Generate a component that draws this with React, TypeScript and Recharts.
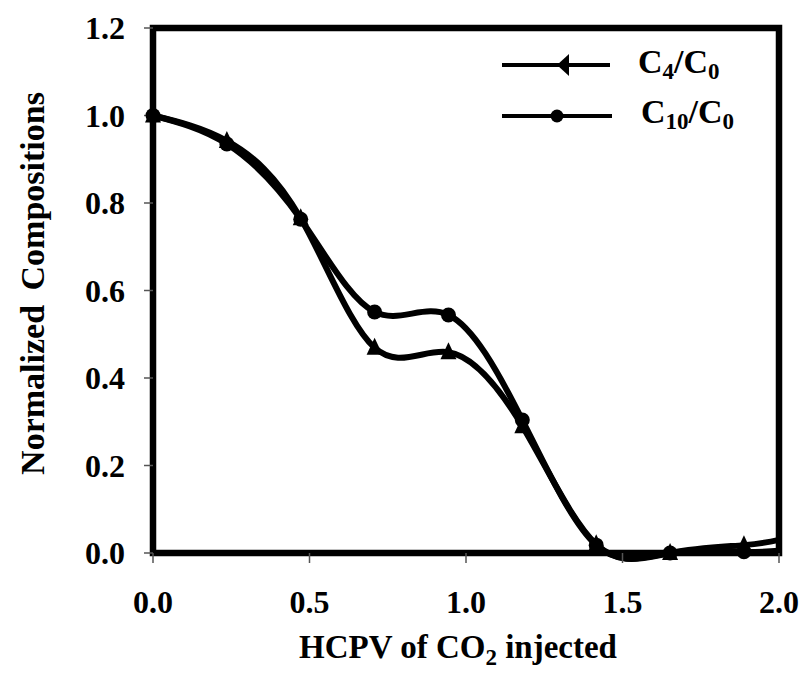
import React from 'react'
import { LineChart, Line, XAxis, YAxis, ReferenceArea, Legend } from 'recharts'

// HCPV of CO2 injected (last entry = where the curves meet the right frame)
const hcpv = [0, 0.236, 0.472, 0.708, 0.944, 1.18, 1.416, 1.652, 1.888, 2.0]
const c4 = [1.0, 0.942, 0.765, 0.469, 0.459, 0.29, 0.02, 0.0, 0.018, 0.03]
const c10 = [1.0, 0.935, 0.763, 0.551, 0.544, 0.304, 0.018, 0.0, 0.003, 0.005]
const xTicks = [0, 0.5, 1.0, 1.5, 2.0]
const yTicks = [0, 0.2, 0.4, 0.6, 0.8, 1.0, 1.2]

const data = hcpv.map((x, i) => ({ x, c4: c4[i], c10: c10[i] }))

const font = '"Liberation Serif", "Times New Roman", serif'
const tickStyle = { fill: '#000', fontSize: 32, fontWeight: 'bold', fontFamily: font }

function TriDot(props: any) {
  const { cx, cy, index, payload } = props
  if (payload.x >= 2) return <g key={'t' + index} />
  return <polygon key={'t' + index} points={`${cx},${cy - 10} ${cx - 8},${cy + 7} ${cx + 8},${cy + 7}`} fill="#000" />
}

function CircleDot(props: any) {
  const { cx, cy, index, payload } = props
  if (payload.x >= 2) return <g key={'c' + index} />
  return <circle key={'c' + index} cx={cx} cy={cy} r={7.5} fill="#000" />
}

function LegendBox() {
  const txt = { fontFamily: font, fontWeight: 'bold' as const, fontSize: 34, fill: '#000' }
  return (
    <svg width={270} height={100} style={{ display: 'block' }}>
      <line x1={7} x2={115} y1={25} y2={25} stroke="#000" strokeWidth={4} />
      <polygon points="62,25 74,14 74,36" fill="#000" />
      <text x={143} y={33} {...txt}>
        C<tspan dy={6} fontSize={23}>4</tspan>
        <tspan dy={-6}>/C</tspan>
        <tspan dy={6} fontSize={23}>0</tspan>
      </text>
      <line x1={7} x2={117} y1={76} y2={76} stroke="#000" strokeWidth={4} />
      <circle cx={62} cy={76} r={6.5} fill="#000" />
      <text x={146} y={83} {...txt}>
        C<tspan dy={6} fontSize={23}>10</tspan>
        <tspan dy={-6}>/C</tspan>
        <tspan dy={6} fontSize={23}>0</tspan>
      </text>
    </svg>
  )
}

export default function App() {
  return (
    <div style={{ position: 'absolute', left: 0, top: 0, background: '#fff' }}>
      <LineChart width={806} height={675} data={data} margin={{ top: 28, right: 27, left: 33, bottom: 12 }}>
        <ReferenceArea x1={0} x2={2} y1={0} y2={1.2} fill="none" stroke="#000" strokeWidth={6.5} />
        <XAxis
          dataKey="x"
          type="number"
          domain={[0, 2]}
          ticks={xTicks}
          tickFormatter={(v: number) => v.toFixed(1)}
          tick={tickStyle}
          axisLine={false}
          tickLine={{ stroke: '#555', strokeWidth: 1.5 }}
          tickSize={10}
          tickMargin={27}
          height={110}
          label={{
            content: (p: any) => {
              const { x, y, width } = p.viewBox
              return (
                <text x={x + width / 2 - 8} y={y + 105} textAnchor="middle" fontFamily={font} fontWeight="bold" fontSize={33} fill="#000">
                  HCPV of CO<tspan dy={7} fontSize={23}>2</tspan>
                  <tspan dy={-7}> injected</tspan>
                </text>
              )
            },
          }}
        />
        <YAxis
          type="number"
          domain={[0, 1.2]}
          ticks={yTicks}
          tickFormatter={(v: number) => v.toFixed(1)}
          tick={tickStyle}
          axisLine={false}
          tickLine={{ stroke: '#555', strokeWidth: 1.5 }}
          tickSize={9}
          tickMargin={19}
          width={120}
          label={{
            content: (p: any) => {
              const { x, y, height } = p.viewBox
              const tx = x + 11
              const ty = y + height / 2 - 7
              return (
                <text x={tx} y={ty} transform={`rotate(-90 ${tx} ${ty})`} textAnchor="middle" fontFamily={font} fontWeight="bold" fontSize={34} wordSpacing={6} fill="#000">
                  Normalized Compositions
                </text>
              )
            },
          }}
        />
        <Legend
          layout="vertical"
          align="center"
          verticalAlign="middle"
          content={() => <LegendBox />}
          wrapperStyle={{ left: 495, top: 40, width: 270, height: 100 }}
        />
        <Line type="natural" dataKey="c4" stroke="#000" strokeWidth={6} dot={TriDot} activeDot={false} isAnimationActive={false} />
        <Line type="natural" dataKey="c10" stroke="#000" strokeWidth={6} dot={CircleDot} activeDot={false} isAnimationActive={false} />
      </LineChart>
    </div>
  )
}
